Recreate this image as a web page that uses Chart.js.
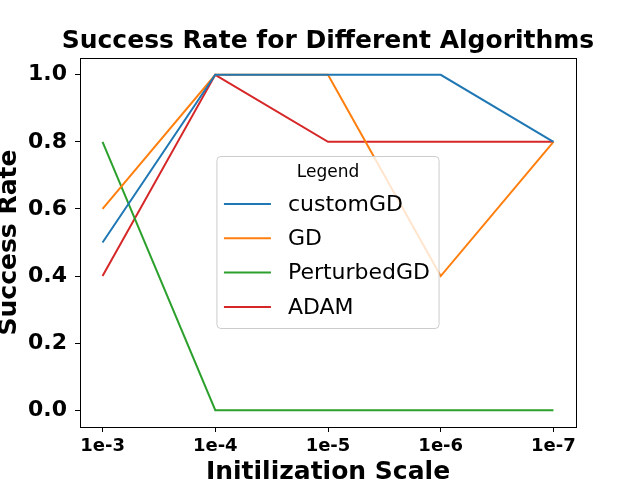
<!DOCTYPE html>
<html><head><meta charset="utf-8">
<script src="https://cdn.jsdelivr.net/npm/chart.js@4.4.1/dist/chart.umd.min.js"></script>
<style>html,body{margin:0;padding:0;background:#fff;}</style>
</head><body>
<canvas id="c" width="640" height="480"></canvas>
<script>
const categories = ['1e-3', '1e-4', '1e-5', '1e-6', '1e-7'];
const customGD = [0.5, 1.0, 1.0, 1.0, 0.8];
const GD = [0.6, 1.0, 1.0, 0.4, 0.8];
const PerturbedGD = [0.8, 0.0, 0.0, 0.0, 0.0];
const ADAM = [0.4, 1.0, 0.8, 0.8, 0.8];
const seriesNames = ['customGD', 'GD', 'PerturbedGD', 'ADAM'];
const seriesValues = [customGD, GD, PerturbedGD, ADAM];
const yTickValues = [0.0, 0.2, 0.4, 0.6, 0.8, 1.0];
const xTickValues = [0, 1, 2, 3, 4];
const colors = ['#1f77b4', '#ff7f0e', '#2ca02c', '#d62728'];

const FONT = 'DejaVu Sans';

const datasets = seriesNames.map((name, i) => ({
  label: name,
  data: seriesValues[i].map((v, j) => ({x: j, y: v})),
  borderColor: colors[i],
  backgroundColor: colors[i],
  borderWidth: 2,
  pointRadius: 0,
  tension: 0,
  fill: false,
  yAxisID: 'y'
}));

const framePlugin = {
  id: 'frame',
  afterDraw(chart) {
    const {ctx, chartArea: a} = chart;
    ctx.save();
    ctx.strokeStyle = '#000';
    ctx.lineWidth = 1;
    ctx.strokeRect(Math.round(a.left) + 0.5, Math.round(a.top) + 0.5,
                   Math.round(a.right - a.left), Math.round(a.bottom - a.top));
    ctx.restore();
  }
};

const legendPlugin = {
  id: 'innerLegend',
  afterDraw(chart) {
    const {ctx, chartArea: a} = chart;
    ctx.save();
    ctx.font = '22px "' + FONT + '"';
    let maxW = 0;
    seriesNames.forEach(n => { maxW = Math.max(maxW, ctx.measureText(n).width); });
    const w = 71 + maxW + 9;
    const h = 172;
    const cx = (a.left + a.right) / 2;
    const cy = (a.top + a.bottom) / 2;
    const x0 = cx - w / 2;
    const y0 = cy - h / 2;
    const r = 4;
    ctx.beginPath();
    ctx.moveTo(x0 + r, y0);
    ctx.lineTo(x0 + w - r, y0);
    ctx.quadraticCurveTo(x0 + w, y0, x0 + w, y0 + r);
    ctx.lineTo(x0 + w, y0 + h - r);
    ctx.quadraticCurveTo(x0 + w, y0 + h, x0 + w - r, y0 + h);
    ctx.lineTo(x0 + r, y0 + h);
    ctx.quadraticCurveTo(x0, y0 + h, x0, y0 + h - r);
    ctx.lineTo(x0, y0 + r);
    ctx.quadraticCurveTo(x0, y0, x0 + r, y0);
    ctx.closePath();
    ctx.fillStyle = 'rgba(255,255,255,0.8)';
    ctx.fill();
    ctx.strokeStyle = '#cccccc';
    ctx.lineWidth = 1;
    ctx.stroke();
    ctx.fillStyle = '#000';
    ctx.textAlign = 'center';
    ctx.textBaseline = 'middle';
    ctx.font = '17px "' + FONT + '"';
    ctx.fillText('Legend', x0 + w / 2, y0 + 16.5);
    ctx.font = '22px "' + FONT + '"';
    ctx.textAlign = 'left';
    seriesNames.forEach((n, i) => {
      const yy = y0 + 47.5 + i * 34.3;
      ctx.strokeStyle = colors[i];
      ctx.lineWidth = 2;
      ctx.beginPath();
      ctx.moveTo(x0 + 7, yy);
      ctx.lineTo(x0 + 54, yy);
      ctx.stroke();
      ctx.fillStyle = '#000';
      ctx.fillText(n, x0 + 71, yy + 1);
    });
    ctx.restore();
  }
};

new Chart(document.getElementById('c'), {
  type: 'line',
  data: {datasets},
  plugins: [framePlugin, legendPlugin],
  options: {
    responsive: false,
    devicePixelRatio: 1,
    animation: false,
    layout: {padding: {left: 16, right: 0, top: 0, bottom: 0}},
    plugins: {
      legend: {display: false},
      tooltip: {enabled: false},
      title: {
        display: true,
        text: 'Success Rate for Different Algorithms',
        color: '#000',
        font: {family: FONT, size: 25, weight: 'bold', lineHeight: 1.2},
        padding: {top: 26.5, bottom: 1.5}
      }
    },
    scales: {
      x: {
        type: 'linear',
        min: -0.2,
        max: 4.2,
        afterBuildTicks(scale) { scale.ticks = xTickValues.map(v => ({value: v})); },
        afterFit(scale) { scale.height = 53; },
        ticks: {
          color: '#000',
          font: {family: FONT, size: 18, weight: 'bold'},
          padding: 4,
          maxRotation: 0,
          autoSkip: false,
          callback: (v) => categories[Math.round(v)] ?? ''
        },
        grid: {display: true, drawOnChartArea: false, tickLength: 5, tickColor: '#000', tickWidth: 1},
        border: {display: true, color: '#000', width: 1},
        title: {
          display: true,
          text: 'Initilization Scale',
          color: '#000',
          font: {family: FONT, size: 25, weight: 'bold', lineHeight: 0.62},
          padding: {top: 0, bottom: 0}
        }
      },
      y: {
        type: 'linear',
        position: 'left',
        min: -0.05,
        max: 1.05,
        afterBuildTicks(scale) { scale.ticks = yTickValues.map(v => ({value: v})); },
        afterFit(scale) { scale.width = 64; },
        ticks: {
          color: '#000',
          font: {family: FONT, size: 22, weight: 'bold'},
          padding: 8,
          callback: (v) => Number(v).toFixed(1)
        },
        grid: {display: true, drawOnChartArea: false, tickLength: 5, tickColor: '#000', tickWidth: 1},
        border: {display: true, color: '#000', width: 1},
        title: {
          display: true,
          text: 'Success Rate',
          color: '#000',
          font: {family: FONT, size: 25, weight: 'bold', lineHeight: 0.76},
          padding: {top: -16, bottom: 0}
        }
      },
      yRight: {
        type: 'linear',
        position: 'right',
        min: -0.05,
        max: 1.05,
        display: true,
        afterFit(scale) { scale.width = 64; },
        ticks: {display: false},
        grid: {display: false},
        border: {display: false},
        title: {display: false}
      }
    }
  }
});
</script>
</body></html>
